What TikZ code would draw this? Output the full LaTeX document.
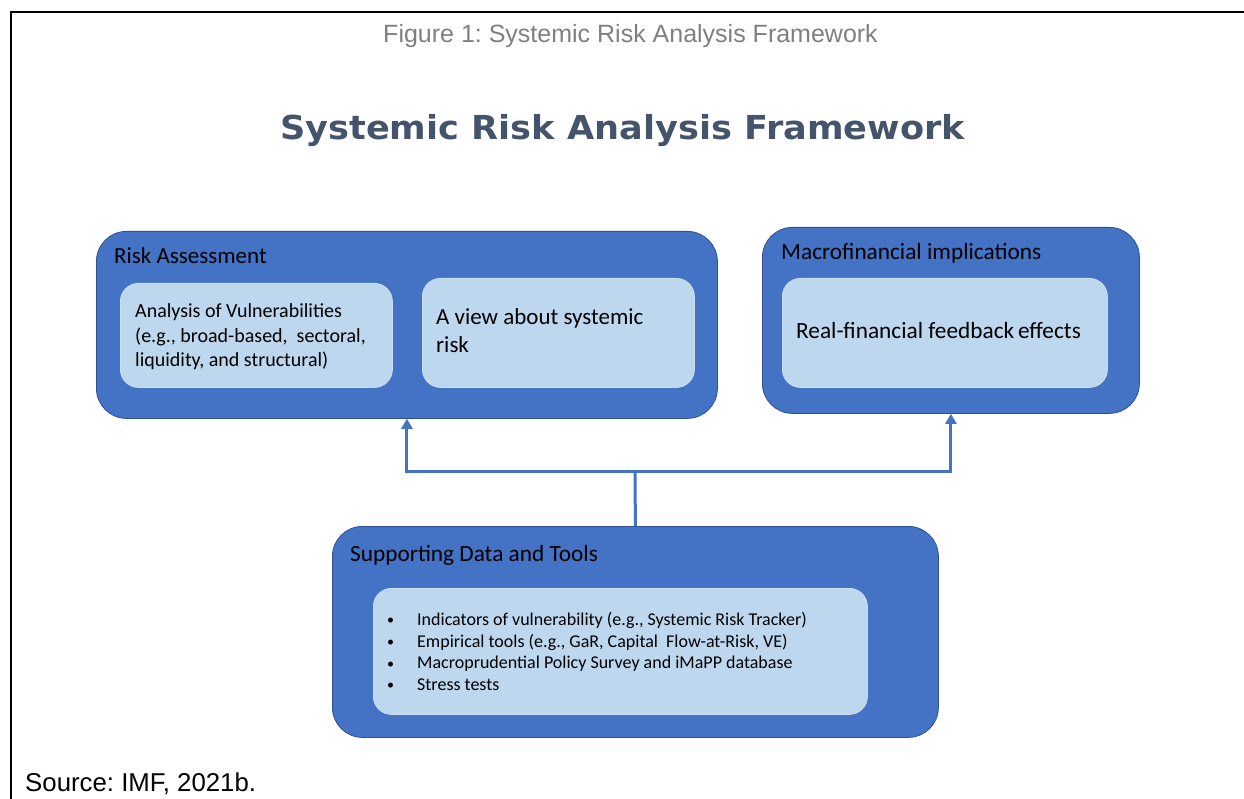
\documentclass[tikz,border=0pt]{standalone}
\usepackage{fontspec}
\setmainfont{Carlito}
\newfontfamily\arialf{Liberation Sans}
\newfontfamily\titlef{DejaVu Sans}
\usetikzlibrary{arrows.meta}
\frenchspacing
\definecolor{outc}{HTML}{4472C4}
\definecolor{bordc}{HTML}{2F528F}
\definecolor{innc}{HTML}{BDD7EE}
\definecolor{titc}{HTML}{44546A}
\definecolor{capc}{HTML}{7F7F7F}
\newcommand{\smbul}{\makebox[30pt][l]{\raisebox{0.5pt}{\fontsize{14}{14}\selectfont •}}}
\tikzset{
  outerbox/.style={draw=bordc, fill=outc, line width=0.8pt, rounded corners=30pt, inner sep=0pt, anchor=north west},
  innerbox/.style={draw=innc!80!white, fill=innc, line width=0.8pt, rounded corners=18pt, inner sep=0pt, anchor=north west},
  lbl/.style={inner sep=0pt, anchor=base west, text=black},
  conn/.style={draw=outc, line width=3pt},
}
\begin{document}
\begin{tikzpicture}[x=1pt,y=-1pt]
\useasboundingbox (0,0) rectangle (1244,799);
% frame
\draw[line width=2pt] (11,799) -- (11,12) -- (1244,12);
% captions
\node[inner sep=0pt, anchor=base, text=capc, font=\arialf\fontsize{25}{30}\selectfont] (cap) at (630.5,42.3) {Figure 1: Systemic Risk Analysis Framework};
\node[inner sep=0pt, anchor=base, text=titc, font=\titlef\bfseries\fontsize{33}{40}\selectfont] (title) at (622.5,140) {\scalebox{1.065}[1]{Systemic Risk Analysis Framework}};
\node[inner sep=0pt, anchor=base west, font=\arialf\fontsize{25.8}{30}\selectfont] (src) at (25,791.7) {Source: IMF, 2021b.};
% Risk assessment
\node[outerbox, minimum width=621pt, minimum height=187pt] (ra) at (96,231) {};
\node[innerbox, minimum width=272pt, minimum height=104pt] (av) at (120,283) {};
\node[innerbox, minimum width=272pt, minimum height=109pt] (vs) at (422,278) {};
\node[lbl, font=\fontsize{23}{27}\selectfont] (ral) at (114,264) {Risk Assessment};
\node[lbl, font=\fontsize{20}{24}\selectfont] (av1) at (135,317.7) {Analysis of Vulnerabilities};
\node[lbl, font=\fontsize{20}{24}\selectfont] (av2) at (135,342) {(e.g., broad-based,\ \ sectoral,};
\node[lbl, font=\fontsize{20}{24}\selectfont] (av3) at (135,366) {liquidity, and structural)};
\node[lbl, font=\fontsize{23}{27.7}\selectfont] (vs1) at (436,325) {A view about systemic};
\node[lbl, font=\fontsize{23}{27.7}\selectfont] (vs2) at (436,352.7) {risk};
% Macrofinancial
\node[outerbox, minimum width=377pt, minimum height=186pt] (mf) at (762,227) {};
\node[innerbox, minimum width=325pt, minimum height=109pt] (rf) at (782,278) {};
\node[lbl, font=\fontsize{23.3}{27}\selectfont] (mfl) at (781,260) {Macrofinancial implications};
\node[lbl, font=\fontsize{23.3}{27.7}\selectfont] (rfl) at (796,338) {Real-financial feedback\,effects};
% Supporting
\node[outerbox, minimum width=606pt, minimum height=211pt] (sup) at (332,526) {};
\node[innerbox, minimum width=494pt, minimum height=126pt] (tools) at (373,588) {};
\node[lbl, font=\fontsize{23.3}{27}\selectfont] (supl) at (350,561.6) {Supporting Data and Tools};
\tikzset{bul/.style={lbl, font=\fontsize{18}{21.7}\selectfont}}
\node[bul] (b1) at (387,625) {\smbul Indicators of vulnerability (e.g., Systemic Risk Tracker)};
\node[bul] (b2) at (387,647) {\smbul Empirical tools (e.g., GaR, Capital\ \ Flow-at-Risk, VE)};
\node[bul] (b3) at (387,668.5) {\smbul Macroprudential Policy Survey and iMaPP database};
\node[bul] (b4) at (387,690) {\smbul Stress tests};
% connectors
\coordinate (j) at (635,471);
\draw[conn] (sup.north) -- (j);
\draw[conn, {Triangle[width=11pt,length=10pt]}-{Triangle[width=11pt,length=10pt]}] (ra.south) |- (j) -| (mf.south);
\end{tikzpicture}
\end{document}
